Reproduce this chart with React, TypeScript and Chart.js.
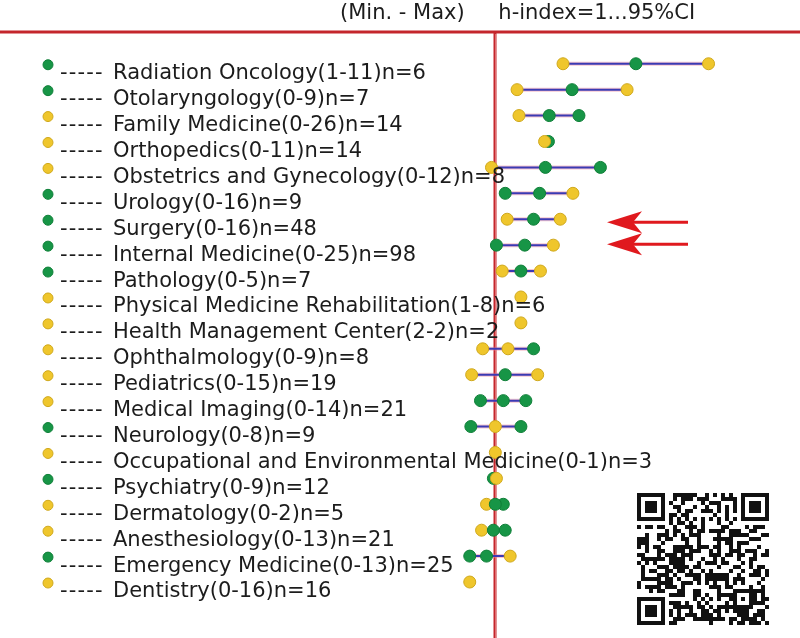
import React, { useEffect, useRef } from "react";
import { Chart, registerables } from "chart.js";
Chart.register(...registerables);

// ---------- data ----------
const departments = [
  "Radiation Oncology(1-11)n=6",
  "Otolaryngology(0-9)n=7",
  "Family Medicine(0-26)n=14",
  "Orthopedics(0-11)n=14",
  "Obstetrics and Gynecology(0-12)n=8",
  "Urology(0-16)n=9",
  "Surgery(0-16)n=48",
  "Internal Medicine(0-25)n=98",
  "Pathology(0-5)n=7",
  "Physical Medicine Rehabilitation(1-8)n=6",
  "Health Management Center(2-2)n=2",
  "Ophthalmology(0-9)n=8",
  "Pediatrics(0-15)n=19",
  "Medical Imaging(0-14)n=21",
  "Neurology(0-8)n=9",
  "Occupational and Environmental Medicine(0-1)n=3",
  "Psychiatry(0-9)n=12",
  "Dermatology(0-2)n=5",
  "Anesthesiology(0-13)n=21",
  "Emergency Medicine(0-13)n=25",
  "Dentistry(0-16)n=16",
];

// values relative to the reference line (0)
const lowerCI: (number | null)[] = [2.46, 0.79, 0.86, null, -0.14, 0.36, 0.43, 0.04, 0.25, null, null, -0.46, -0.86, -0.54, -0.89, null, -0.07, -0.32, -0.5, -0.93, null];
const hIndex: (number | null)[] = [5.11, 2.79, 1.96, 1.79, 1.82, 1.61, 1.39, 1.07, 0.93, 0.93, 0.93, 0.46, 0.36, 0.29, 0.0, 0.0, 0.04, 0.0, -0.07, -0.32, -0.93];
const upperCI: (number | null)[] = [7.75, 4.79, 3.04, 1.93, 3.82, 2.82, 2.36, 2.11, 1.64, null, null, 1.39, 1.54, 1.11, 0.93, null, null, 0.29, 0.36, 0.54, null];

// Y = yellow, G = green
const lowerColor = ["Y", "Y", "Y", "-", "Y", "G", "Y", "G", "Y", "-", "-", "Y", "Y", "G", "G", "-", "G", "Y", "Y", "G", "-"];
const midColor = ["G", "G", "G", "Y", "G", "G", "G", "G", "G", "Y", "Y", "Y", "G", "G", "Y", "Y", "Y", "G", "G", "G", "Y"];
const upperColor = ["Y", "Y", "G", "G", "G", "Y", "Y", "Y", "Y", "-", "-", "G", "Y", "G", "G", "-", "-", "G", "G", "Y", "-"];
const legendColor = ["G", "G", "Y", "Y", "Y", "G", "G", "G", "G", "Y", "Y", "Y", "Y", "Y", "G", "Y", "G", "Y", "Y", "G", "Y"];

const headerLeft = "(Min. - Max)";
const headerRight = "h-index=1...95%CI";
const referenceValue = 0;
const arrowRows = [6, 7];

// ---------- styles ----------
const YELLOW = "#efc62c";
const YELLOW_EDGE = "#cfa81c";
const GREEN = "#179546";
const GREEN_EDGE = "#0f7f38";
const RED = "#c4262c";
const LINE_BLUE = "#3b3ab4";
const FONT = '"DejaVu Sans", Verdana, sans-serif';

const fill = (c: string) => (c === "G" ? GREEN : YELLOW);
const edge = (c: string) => (c === "G" ? GREEN_EDGE : YELLOW_EDGE);

function qrModule(r: number, c: number, n: number): boolean {
  const finders = [
    [0, 0],
    [0, n - 7],
    [n - 7, 0],
  ];
  for (const [r0, c0] of finders) {
    if (r >= r0 && r < r0 + 7 && c >= c0 && c < c0 + 7) {
      const rr = r - r0, cc = c - c0;
      return rr === 0 || rr === 6 || cc === 0 || cc === 6 || (rr >= 2 && rr <= 4 && cc >= 2 && cc <= 4);
    }
  }
  if ((r < 8 && c < 8) || (r < 8 && c >= n - 8) || (r >= n - 8 && c < 8)) return false;
  if (r === 6) return c % 2 === 0;
  if (c === 6) return r % 2 === 0;
  const ac = n - 7;
  if (Math.abs(r - ac) <= 2 && Math.abs(c - ac) <= 2) {
    return Math.max(Math.abs(r - ac), Math.abs(c - ac)) !== 1;
  }
  let h = (r * 374761393 + c * 668265263) >>> 0;
  h = ((h ^ (h >>> 13)) * 1274126177) >>> 0;
  return ((h >>> 16) & 1) === 1;
}

export default function App() {
  const ref = useRef<HTMLCanvasElement>(null);

  useEffect(() => {
    document.body.style.margin = "0";
    const canvas = ref.current!;

    const pointSet = (vals: (number | null)[], cols: string[]) => {
      const data: { x: number; y: number }[] = [];
      const bg: string[] = [];
      const bd: string[] = [];
      vals.forEach((v, i) => {
        if (v === null) return;
        data.push({ x: v, y: i });
        bg.push(fill(cols[i]));
        bd.push(edge(cols[i]));
      });
      return { data, bg, bd };
    };

    const mid = pointSet(hIndex, midColor);
    const low = pointSet(lowerCI, lowerColor);
    const up = pointSet(upperCI, upperColor);

    const segs: { x: number; y: number | null }[] = [];
    departments.forEach((_, i) => {
      const vs = [lowerCI[i], hIndex[i], upperCI[i]].filter((v) => v !== null) as number[];
      if (vs.length < 2) return;
      const a = Math.min(...vs), b = Math.max(...vs);
      segs.push({ x: a, y: i }, { x: b, y: i }, { x: b, y: null });
    });

    const mkPoints = (label: string, p: any) => ({
      label,
      data: p.data,
      backgroundColor: p.bg,
      borderColor: p.bd,
      borderWidth: 1,
      pointRadius: 6,
      showLine: false,
    });

    const decor = {
      id: "decor",
      beforeDatasetsDraw(chart: any) {
        const { ctx } = chart;
        const xs = chart.scales.x, ys = chart.scales.y;
        const xr = Math.round(xs.getPixelForValue(referenceValue));
        ctx.save();
        ctx.strokeStyle = RED;
        ctx.lineWidth = 3;
        ctx.beginPath();
        ctx.moveTo(0, 32);
        ctx.lineTo(800, 32);
        ctx.stroke();
        ctx.beginPath();
        ctx.moveTo(xr, 32);
        ctx.lineTo(xr, 638);
        ctx.stroke();
        ctx.strokeStyle = "rgba(245,170,170,0.55)";
        ctx.lineWidth = 1;
        ctx.beginPath();
        ctx.moveTo(xr + 0.5, 34);
        ctx.lineTo(xr + 0.5, 638);
        ctx.stroke();
        legendColor.forEach((c, i) => {
          const y = ys.getPixelForValue(i);
          ctx.beginPath();
          ctx.arc(48, y + 1, 5, 0, Math.PI * 2);
          ctx.fillStyle = fill(c);
          ctx.fill();
          ctx.lineWidth = 1;
          ctx.strokeStyle = edge(c);
          ctx.stroke();
        });
        ctx.restore();
      },
      afterDatasetsDraw(chart: any) {
        const { ctx } = chart;
        const xs = chart.scales.x, ys = chart.scales.y;
        const xr = xs.getPixelForValue(referenceValue);
        ctx.save();
        ctx.fillStyle = "#1c1c1c";
        ctx.textBaseline = "middle";
        ctx.textAlign = "left";
        ctx.font = `21px ${FONT}`;
        ctx.fillText(headerLeft, 340, 14);
        ctx.fillText(headerRight, xr + 3, 14);
        ctx.font = `21px ${FONT}`;
        departments.forEach((d, i) => {
          const y = ys.getPixelForValue(i) + 10;
          (ctx as any).letterSpacing = "1.2px";
          ctx.fillText("-----", 60, y);
          (ctx as any).letterSpacing = "0px";
          ctx.fillText(d, 113, y);
        });
        // arrows
        ctx.fillStyle = "#e0191e";
        ctx.strokeStyle = "#e0191e";
        arrowRows.forEach((r, k) => {
          const y = ys.getPixelForValue(r) + (k === 0 ? 3 : -1);
          ctx.lineWidth = 3;
          ctx.beginPath();
          ctx.moveTo(630, y);
          ctx.lineTo(688, y);
          ctx.stroke();
          ctx.beginPath();
          ctx.moveTo(607, y);
          ctx.lineTo(642, y - 11);
          ctx.lineTo(633, y);
          ctx.lineTo(642, y + 11);
          ctx.closePath();
          ctx.fill();
        });
        // QR code
        const n = 33, m = 4, qx = 637, qy = 493;
        ctx.fillStyle = "#111";
        for (let r = 0; r < n; r++) {
          for (let c = 0; c < n; c++) {
            if (qrModule(r, c, n)) ctx.fillRect(qx + c * m, qy + r * m, m, m);
          }
        }
        ctx.restore();
      },
    };

    const chart = new Chart(canvas, {
      type: "scatter",
      data: {
        datasets: [
          mkPoints("h-index", mid),
          mkPoints("lower 95% CI", low),
          mkPoints("upper 95% CI", up),
          {
            label: "CI",
            data: segs as any,
            showLine: true,
            borderColor: LINE_BLUE,
            borderWidth: 2,
            pointRadius: 0,
            spanGaps: false,
          } as any,
          {
            label: "CI edge",
            data: segs as any,
            showLine: true,
            borderColor: "rgba(232,130,150,0.45)",
            borderWidth: 4,
            pointRadius: 0,
            spanGaps: false,
          } as any,
        ],
      },
      options: {
        responsive: false,
        animation: false,
        layout: { padding: 0 },
        plugins: { legend: { display: false }, tooltip: { enabled: false } },
        scales: {
          x: { type: "linear", min: -17.75, max: 10.82, display: false },
          y: { type: "linear", min: -2.19, max: 21.89, reverse: true, display: false },
        },
      },
      plugins: [decor],
    });
    return () => chart.destroy();
  }, []);

  return (
    <div style={{ width: 800, height: 638, background: "#fff" }}>
      <canvas ref={ref} width={800} height={638} style={{ display: "block" }} />
    </div>
  );
}
